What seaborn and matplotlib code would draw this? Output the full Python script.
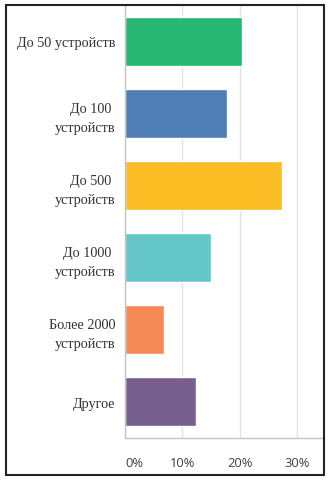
import matplotlib
matplotlib.use("Agg")
import matplotlib.pyplot as plt
from matplotlib.patches import Rectangle
from matplotlib.ticker import FixedLocator
import seaborn as sns
import pandas as pd

categories = [
    "До 50 устройств",
    "До 100 \nустройств",
    "До 500 \nустройств",
    "До 1000 \nустройств",
    "Более 2000\nустройств",
    "Другое",
]
shares = [0.204, 0.178, 0.274, 0.150, 0.068, 0.124]
colors = ["#27b673", "#4e7eb5", "#fbbd23", "#64c6c9", "#f68a55", "#77608f"]
tick_values = [0.0, 0.1, 0.2, 0.3]
tick_labels = ["0%", "10%", "20%", "30%"]

df = pd.DataFrame({"category": categories, "share": shares})

sns.set_style("white")
W, H = 328, 481
fig = plt.figure(figsize=(W / 100, H / 100), dpi=100)

left, right, top, bottom = 125, 324, 6, 439
ax = fig.add_axes([left / W, 1 - bottom / H, (right - left) / W, (bottom - top) / H])

sns.barplot(
    data=df, y="category", x="share", hue="category",
    palette=colors, orient="h", width=0.68, saturation=1,
    legend=False, ax=ax,
)

ax.set_xlim(0, 0.347)
ax.xaxis.set_major_locator(FixedLocator(tick_values))
ax.set_xticklabels(tick_labels, fontfamily="Open Sans", fontsize=9.3, color="#404040")
ax.get_xticklabels()[0].set_ha("left")
ax.grid(axis="x", color="#e2e2e2", linewidth=1)
ax.set_axisbelow(True)
ax.tick_params(axis="x", length=0, pad=13)
ax.tick_params(axis="y", length=0, pad=7)
for lbl in ax.get_yticklabels():
    lbl.set_fontfamily("Liberation Serif")
    lbl.set_fontsize(10.3)
    lbl.set_color("#333333")
    lbl.set_multialignment("right")
    lbl.set_linespacing(1.6)

ax.set_xlabel("")
ax.set_ylabel("")
for side in ["top", "right"]:
    ax.spines[side].set_visible(False)
for side in ["left", "bottom"]:
    ax.spines[side].set_color("#c4c4c4")
    ax.spines[side].set_linewidth(1)

# outer frame around the chart
fig.patches.append(Rectangle(
    (5.5 / W, 1 - 475.5 / H), 318.5 / W, 469.5 / H,
    transform=fig.transFigure, fill=False, edgecolor="#222222",
    linewidth=1.5, zorder=10,
))

fig.savefig("out.png", dpi=100)
